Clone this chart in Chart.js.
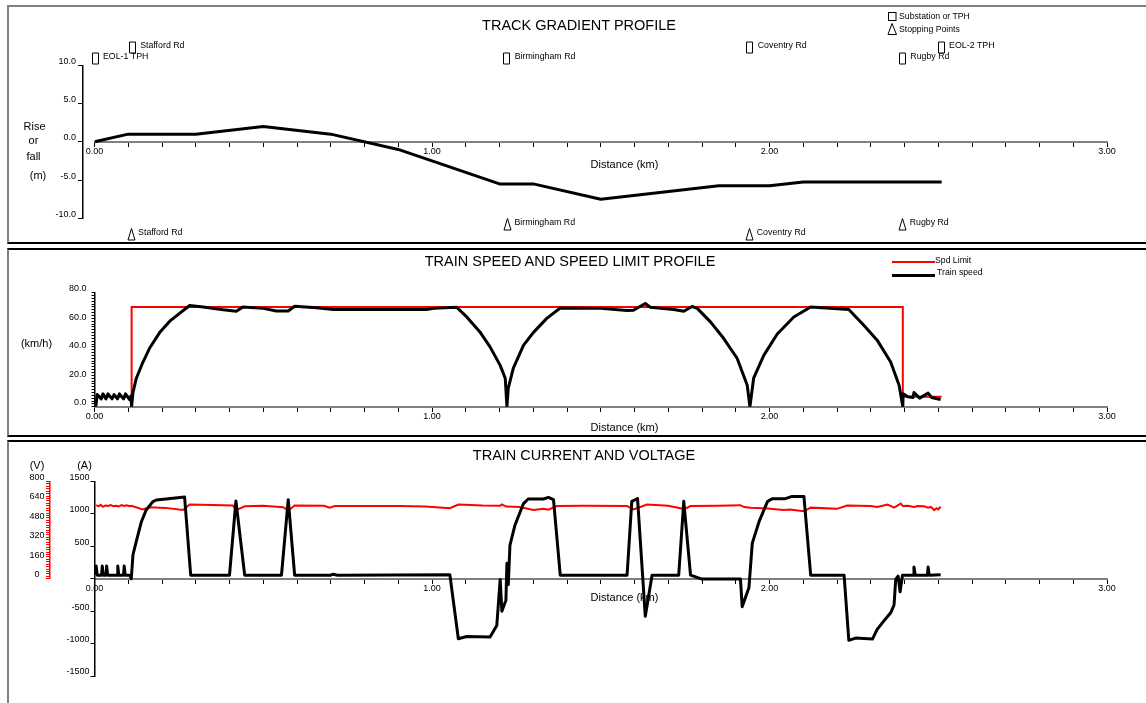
<!DOCTYPE html>
<html>
<head>
<meta charset="utf-8">
<script src="https://cdn.jsdelivr.net/npm/chart.js@4.4.1/dist/chart.umd.min.js"></script>
<style>
html,body{margin:0;padding:0;background:#fff;}
body{width:1146px;height:703px;position:relative;overflow:hidden;font-family:"Liberation Sans",Arial,sans-serif;color:#000;}
.panel{position:absolute;left:7px;width:1200px;box-sizing:border-box;border-left:2px solid #808080;}
canvas{position:absolute;left:0;}
.t{position:absolute;white-space:nowrap;line-height:1;transform:translate(-50%,-50%);}
.title{font-size:14.5px;}
.lab{font-size:11px;}
.lg{position:absolute;white-space:nowrap;line-height:1;font-size:8.7px;transform:translateY(-50%);}
.sw{position:absolute;}
</style>
</head>
<body>
<div class="panel" style="top:5px;height:239px;border-top:2px solid #808080;border-bottom:2px solid #000;"></div>
<div class="panel" style="top:248px;height:189px;border-top:2px solid #000;border-bottom:2px solid #000;"></div>
<div class="panel" style="top:440px;height:300px;border-top:2px solid #000;"></div>

<canvas id="c1" width="1146" height="243" style="top:0px"></canvas>
<canvas id="c2" width="1146" height="192" style="top:244px"></canvas>
<canvas id="c3" width="1146" height="265" style="top:438px"></canvas>

<div class="t title" style="left:579px;top:24.5px">TRACK GRADIENT PROFILE</div>
<div class="t title" style="left:570px;top:261px">TRAIN SPEED AND SPEED LIMIT PROFILE</div>
<div class="t title" style="left:584px;top:455px">TRAIN CURRENT AND VOLTAGE</div>

<div class="t lab" style="left:624.5px;top:163.5px">Distance (km)</div>
<div class="t lab" style="left:624.5px;top:426.5px">Distance (km)</div>
<div class="t lab" style="left:624.5px;top:597px">Distance (km)</div>

<div class="t lab" style="left:34.5px;top:125.5px">Rise</div>
<div class="t lab" style="left:33.5px;top:140px">or</div>
<div class="t lab" style="left:33.5px;top:155.5px">fall</div>
<div class="t lab" style="left:38px;top:174.8px">(m)</div>
<div class="t lab" style="left:36.5px;top:343px">(km/h)</div>
<div class="t lab" style="left:37px;top:465px">(V)</div>
<div class="t lab" style="left:84.5px;top:465px">(A)</div>

<!-- panel 1 key -->
<svg class="sw" style="left:887px;top:11px" width="10" height="11"><rect x="1.5" y="1.5" width="7.5" height="8" fill="none" stroke="#000" stroke-width="1"/></svg>
<div class="lg" style="left:899px;top:16px">Substation or TPH</div>
<svg class="sw" style="left:887px;top:22px" width="11" height="14"><path d="M5 1.5 L9.5 12.5 L1 12.5 Z" fill="none" stroke="#000" stroke-width="1"/></svg>
<div class="lg" style="left:899px;top:29px">Stopping Points</div>

<!-- panel 2 key -->
<div class="sw" style="left:891.5px;top:260.7px;width:43.5px;height:2px;background:#ff0000"></div>
<div class="lg" style="left:935px;top:259.5px">Spd Limit</div>
<div class="sw" style="left:891.5px;top:273.5px;width:43.5px;height:3px;background:#000"></div>
<div class="lg" style="left:937px;top:271.7px">Train speed</div>

<script>
// ================= DATA =================
const distTickKm = [0, 1, 2, 3];

const gradKm = [0, 0.1, 0.3, 0.5, 0.7, 0.9, 1.2, 1.3, 1.5, 1.85, 2.0, 2.1, 2.51];
const gradM  = [0, 1.0, 1.0, 2.0, 1.0, -1.0, -5.5, -5.5, -7.5, -5.75, -5.75, -5.25, -5.25];
const gradTickM = [-10, -5, 0, 5, 10];

const substationNames = ['EOL-1 TPH', 'Stafford Rd', 'Birmingham Rd', 'Coventry Rd', 'Rugby Rd', 'EOL-2 TPH'];
const substationKm    = [0.0, 0.11, 1.22, 1.94, 2.392, 2.507];
const stopNames = ['Stafford Rd', 'Birmingham Rd', 'Coventry Rd', 'Rugby Rd'];
const stopKm    = [0.107, 1.222, 1.94, 2.393];

const limitKm  = [0, 0.11, 0.11, 2.395, 2.395, 2.51];
const limitKmh = [7, 7, 70, 70, 7, 7];

const speedKm = [0.004, 0.008, 0.02, 0.025, 0.034, 0.04, 0.052, 0.058, 0.068, 0.074, 0.086, 0.092, 0.104, 0.108, 0.11,
  0.114, 0.124, 0.143, 0.163, 0.193, 0.223, 0.252, 0.282,
  0.322, 0.381, 0.42, 0.44, 0.5, 0.539, 0.574, 0.593, 0.658, 0.707, 0.984, 1.004, 1.073,
  1.103, 1.142, 1.172, 1.202, 1.217, 1.222,
  1.226, 1.241, 1.271, 1.30, 1.34, 1.38,
  1.499, 1.578, 1.597, 1.632, 1.647, 1.716, 1.746, 1.771, 1.786,
  1.825, 1.864, 1.904, 1.934, 1.942,
  1.953, 1.983, 2.023, 2.072, 2.122,
  2.235, 2.28, 2.319, 2.359, 2.384, 2.395,
  2.396, 2.41, 2.425, 2.428, 2.445, 2.47, 2.48, 2.507];
const speedKmh = [0, 8.5, 5.5, 9, 5.5, 9, 5.5, 8.5, 5.5, 9, 5.5, 9, 5, 7.5, 0,
  10, 20, 31, 41, 52, 60, 65.5, 71,
  70, 68, 67, 70, 69, 67.2, 67.2, 70.5, 69.5, 68.2, 68.2, 69, 69.8,
  63, 52.5, 42, 29, 20, 0,
  13, 27, 43, 52, 62, 69.3,
  69, 67.5, 67.7, 72.4, 69.8, 68.2, 67, 70.3, 69,
  59.5, 48, 34, 15, 0,
  20, 36, 51, 63, 70,
  68.2, 57, 46.7, 31.4, 15, 0,
  9, 7, 6.5, 10, 6, 9.5, 6.5, 5];
const speedTickKmh = [0, 20, 40, 60, 80];

const currKm = [0.004, 0.005, 0.008, 0.021, 0.023, 0.026, 0.034, 0.036, 0.039, 0.067, 0.069, 0.072, 0.086, 0.088, 0.091, 0.104, 0.109,
  0.114, 0.124, 0.139, 0.153, 0.173, 0.183, 0.212, 0.267, 0.285,
  0.40, 0.419, 0.445, 0.554, 0.574, 0.593, 0.70, 0.707, 0.72, 1.053,
  1.078, 1.103, 1.172, 1.192, 1.202, 1.207, 1.219, 1.222, 1.226, 1.231, 1.246, 1.271, 1.285, 1.33, 1.345, 1.36, 1.38,
  1.578, 1.592, 1.609, 1.632, 1.652, 1.731, 1.746, 1.766, 1.80, 1.914, 1.919, 1.939, 1.949, 1.969, 1.994, 2.008, 2.047, 2.067, 2.102, 2.122,
  2.221, 2.235, 2.255, 2.305, 2.319, 2.339, 2.359, 2.369, 2.374, 2.381, 2.387, 2.394, 2.426, 2.428, 2.432, 2.468, 2.47, 2.473, 2.507];
const currA = [60, 195, 55, 55, 195, 55, 55, 195, 55, 55, 195, 55, 55, 195, 55, 55, 0,
  370, 580, 880, 1060, 1190, 1215, 1230, 1260, 55,
  55, 1200, 55, 55, 1220, 55, 55, 70, 55, 60,
  -925, -890, -900, -720, -10, -500, -330, 240, -90, 520, 830, 1160, 1230, 1230, 1255, 1220, 55,
  55, 1195, 1235, -580, 55, 55, 1195, 55, -5, -5, -430, -140, 550, 880, 1190, 1235, 1235, 1270, 1270, 55,
  55, -950, -915, -930, -780, -650, -525, -405, -10, 40, -200, 55, 55, 180, 55, 55, 180, 55, 60];
const currTickA = [-1500, -1000, -500, 500, 1000, 1500];

const voltKm = [0.005, 0.012, 0.018, 0.025, 0.032, 0.04, 0.048, 0.056, 0.064, 0.072, 0.08, 0.088, 0.096, 0.104, 0.11,
  0.143, 0.163, 0.21, 0.262, 0.282, 0.35, 0.41, 0.42, 0.445, 0.5, 0.559, 0.574, 0.593, 0.68, 0.697, 0.712, 0.8, 0.905,
  0.98, 1.053, 1.078, 1.15, 1.202, 1.207, 1.22, 1.26, 1.3, 1.33, 1.345, 1.37, 1.45, 1.578, 1.597, 1.637, 1.7, 1.736,
  1.746, 1.766, 1.85, 1.914, 1.925, 1.944, 1.994, 2.042, 2.06, 2.102, 2.122, 2.2, 2.23, 2.3, 2.319, 2.335, 2.349, 2.36,
  2.369, 2.389, 2.395, 2.41, 2.428, 2.44, 2.458, 2.47, 2.478, 2.488, 2.495, 2.5, 2.507];
const voltV = [605, 596, 608, 592, 603, 598, 606, 597, 600, 594, 606, 598, 604, 596, 600,
  570, 588, 583, 565, 610, 606, 602, 565, 596, 600, 588, 562, 602, 600, 584, 598, 598, 598,
  594, 580, 610, 602, 600, 612, 594, 590, 565, 575, 568, 598, 600, 598, 570, 610, 600, 580,
  570, 598, 600, 605, 590, 585, 577, 565, 570, 555, 585, 575, 602, 598, 590, 600, 610, 598,
  585, 618, 598, 600, 590, 598, 596, 585, 592, 565, 580, 570, 592];
const voltTickV = [0, 160, 320, 480, 640, 800];

// ================= LAYOUT / STYLE =================
const FONT = '"Liberation Sans", Arial, sans-serif';
Chart.defaults.font.family = FONT;
Chart.defaults.font.size = 9;
Chart.defaults.color = '#000';

const X_MIN = Math.min(...distTickKm), X_MAX = Math.max(...distTickKm);
const isTick = (list, v) => list.some(t => Math.abs(t - v) < 1e-6);
const pts = (xs, ys) => xs.map((x, i) => ({x: x, y: ys[i]}));

// marker rows (label stagger levels, in gradient-axis units)
const ROW = {subLow: 11.0, subHigh: 12.45, stopHigh: -10.7, stopLow: -12.05};

function distanceAxis(posId) {
  return {
    type: 'linear', min: X_MIN, max: X_MAX, position: {[posId]: 0},
    afterFit: s => { s.height = 0; },
    ticks: {stepSize: 0.1, autoSkip: false, maxRotation: 0, minRotation: 0, padding: 0,
      callback: v => isTick(distTickKm, v) ? Number(v).toFixed(2) : ''},
    grid: {display: true, drawOnChartArea: false, drawTicks: true, tickLength: 4, tickColor: '#000', tickWidth: 1},
    border: {display: true, color: '#808080', width: 2}
  };
}

// draws the outline marker shapes and names at each marker element's position
const markerPlugin = {
  id: 'markers',
  afterDatasetsDraw(chart) {
    const ctx = chart.ctx;
    ctx.save();
    ctx.font = '8.8px ' + FONT;
    ctx.fillStyle = '#000';
    ctx.strokeStyle = '#000';
    ctx.lineWidth = 1;
    ctx.textAlign = 'left';
    ctx.textBaseline = 'middle';
    chart.data.datasets.forEach((ds, i) => {
      if (!ds.markerLabels) return;
      chart.getDatasetMeta(i).data.forEach((p, j) => {
        const x = Math.round(p.x) + 0.5, y = Math.round(p.y) + 0.5;
        ctx.beginPath();
        if (ds.markerShape === 'rect') {
          ctx.rect(x - 3, y - 5.5, 6, 11);
        } else {
          ctx.moveTo(x, y - 6); ctx.lineTo(x + 3.5, y + 5.5); ctx.lineTo(x - 3.5, y + 5.5); ctx.closePath();
        }
        ctx.stroke();
        ctx.fillText(ds.markerLabels[j], p.x + ds.labelDx, p.y - 1);
      });
    });
    ctx.restore();
  }
};

const common = {
  responsive: false, animation: false, events: [],
  plugins: {legend: {display: false}, tooltip: {enabled: false}, title: {display: false}}
};

// ================= PANEL 1 : gradient =================
new Chart(document.getElementById('c1'), {
  type: 'line',
  data: {datasets: [
    {data: pts(gradKm, gradM), yAxisID: 'y', borderColor: '#000', borderWidth: 3, pointRadius: 0, tension: 0, borderJoinStyle: 'round'},
    {data: substationKm.map((x, i) => ({x: x, y: i % 2 ? ROW.subHigh : ROW.subLow})), yAxisID: 'y', showLine: false,
      pointRadius: 0, markerShape: 'rect', markerLabels: substationNames, labelDx: 8.5},
    {data: stopKm.map((x, i) => ({x: x, y: i % 2 ? ROW.stopHigh : ROW.stopLow})), yAxisID: 'y', showLine: false,
      pointRadius: 0, markerShape: 'tri', markerLabels: stopNames, labelDx: 7.5}
  ]},
  options: Object.assign({}, common, {
    layout: {padding: {left: 54.5, right: 39, top: 36, bottom: 1}},
    scales: {
      x: distanceAxis('y'),
      y: {type: 'linear', position: 'left', min: Math.min(...gradTickM), max: Math.max(...gradTickM),
        afterFit: s => { s.width = 40; },
        ticks: {stepSize: 5, autoSkip: false, padding: 2, labelOffset: -4,
          callback: v => isTick(gradTickM, v) ? Number(v).toFixed(1) : ''},
        grid: {display: true, drawOnChartArea: false, tickLength: 5, tickColor: '#000'},
        border: {display: true, color: '#000', width: 1.5}}
    }
  }),
  plugins: [markerPlugin, {
    id: 'placeGradAxis',
    afterLayout(chart) {
      const y = chart.scales.y;
      y.left -= 11.5; y.right -= 11.5;
      y.top = 65.3; y.bottom = 218.3; y.height = y.bottom - y.top;
      y.configure();
    }
  }]
});

// ================= PANEL 2 : speed =================
new Chart(document.getElementById('c2'), {
  type: 'line',
  data: {datasets: [
    {data: pts(speedKm, speedKmh), yAxisID: 'y', borderColor: '#000', borderWidth: 3, pointRadius: 0, tension: 0, borderJoinStyle: 'round'},
    {data: pts(limitKm, limitKmh), yAxisID: 'y', borderColor: '#ff0000', borderWidth: 2, pointRadius: 0, tension: 0}
  ]},
  options: Object.assign({}, common, {
    layout: {padding: {left: 54.5, right: 39, top: 48.7, bottom: 29.3}},
    scales: {
      x: distanceAxis('y'),
      y: {type: 'linear', position: 'left', min: Math.min(...speedTickKmh), max: Math.max(...speedTickKmh),
        afterFit: s => { s.width = 40; },
        ticks: {stepSize: 2, autoSkip: false, padding: 5, labelOffset: -4,
          callback: v => isTick(speedTickKmh, v) ? Number(v).toFixed(1) : ''},
        grid: {display: true, drawOnChartArea: false, tickLength: 3, tickColor: '#000'},
        border: {display: true, color: '#000', width: 1.5}}
    }
  })
});

// ================= PANEL 3 : current & voltage =================
new Chart(document.getElementById('c3'), {
  type: 'line',
  data: {datasets: [
    {data: pts(currKm, currA), yAxisID: 'yA', borderColor: '#000', borderWidth: 3, pointRadius: 0, tension: 0, borderJoinStyle: 'round'},
    {data: pts(voltKm, voltV), yAxisID: 'yV', borderColor: '#ff0000', borderWidth: 2, pointRadius: 0, tension: 0}
  ]},
  options: Object.assign({}, common, {
    layout: {padding: {left: 20, right: 39, top: 43.5, bottom: 27}},
    scales: {
      x: distanceAxis('yA'),
      yA: {type: 'linear', position: 'left', weight: 0, min: Math.min(...currTickA), max: Math.max(...currTickA),
        afterFit: s => { s.width = 44.5; },
        ticks: {stepSize: 500, autoSkip: false, padding: 1, labelOffset: -4,
          callback: v => isTick(currTickA, v) ? String(v) : ''},
        grid: {display: true, drawOnChartArea: false, tickLength: 4, tickColor: '#000'},
        border: {display: true, color: '#000', width: 1.5}},
      yV: {type: 'linear', position: 'left', weight: 1, min: Math.min(...voltTickV), max: Math.max(...voltTickV),
        afterFit: s => { s.width = 30; },
        ticks: {stepSize: 20, autoSkip: false, padding: 1.5, labelOffset: -4, crossAlign: 'center',
          callback: v => isTick(voltTickV, v) ? String(v) : ''},
        grid: {display: true, drawOnChartArea: false, tickLength: 4, tickColor: '#ff0000'},
        border: {display: true, color: '#ff0000', width: 1.5}}
    }
  }),
  plugins: [{
    id: 'placeVoltAxis',
    afterLayout(chart) {
      const a = chart.scales.yA, v = chart.scales.yV;
      v.bottom = a.getPixelForValue(0); v.height = v.bottom - v.top;
      v.configure();
    }
  }]
});
</script>
</body>
</html>
